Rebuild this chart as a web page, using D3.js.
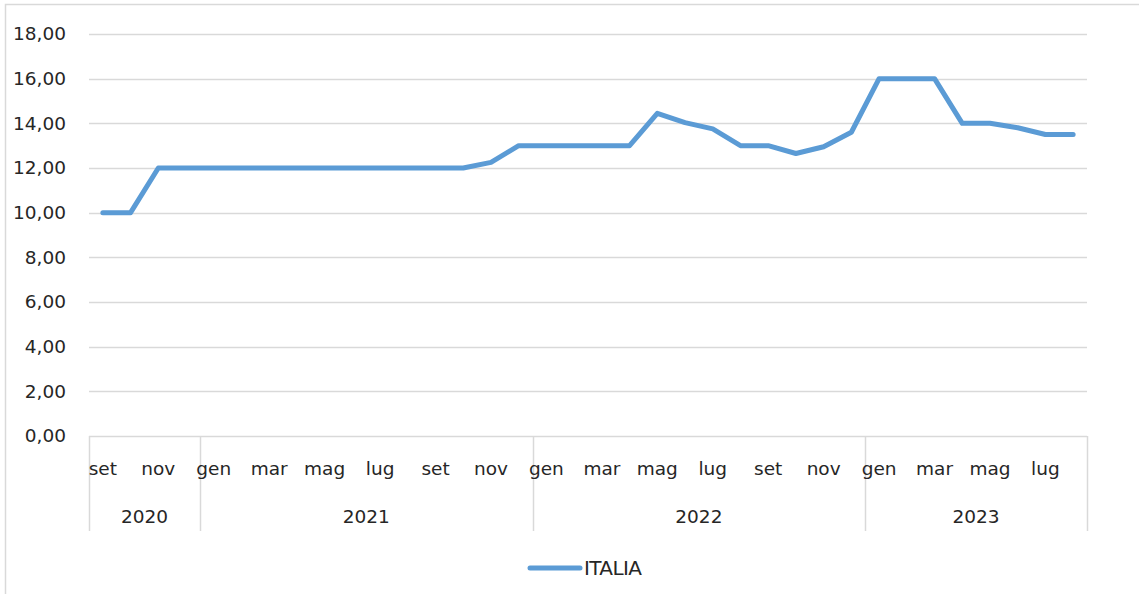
<!DOCTYPE html>
<html>
<head>
<meta charset="utf-8">
<script src="https://cdn.jsdelivr.net/npm/d3@7"></script>
<style>
  body { margin: 0; background: #fff; }
  svg text { font-family: "DejaVu Sans", sans-serif; fill: #262626; }
</style>
</head>
<body>
<div id="chart"></div>
<script>
// months shown on the axis (Excel skips every other label)
var months = ["set", "ott", "nov", "dic",
  "gen", "feb", "mar", "apr", "mag", "giu", "lug", "ago", "set", "ott", "nov", "dic",
  "gen", "feb", "mar", "apr", "mag", "giu", "lug", "ago", "set", "ott", "nov", "dic",
  "gen", "feb", "mar", "apr", "mag", "giu", "lug", "ago"];
var years = ["2020", "2021", "2022", "2023"];
var monthsPerYear = [4, 12, 12, 8];
var italia = [10, 10, 12, 12,
  12, 12, 12, 12, 12, 12, 12, 12, 12, 12, 12.25, 13,
  13, 13, 13, 13, 14.45, 14.03, 13.75, 13, 13, 12.65, 12.95, 13.6,
  16, 16, 16, 14, 14, 13.8, 13.5, 13.5];
var yTicks = [0, 2, 4, 6, 8, 10, 12, 14, 16, 18];
var seriesName = "ITALIA";

var W = 1139, H = 594;
var plotLeft = 89, plotRight = 1087, plotTop = 34, plotBottom = 436;
var gridColor = "#d9d9d9";
var lineColor = "#5b9bd5";

var svg = d3.select("#chart").append("svg")
  .attr("width", W)
  .attr("height", H);

// outer chart border (only top and left show in the picture)
svg.append("path")
  .attr("d", "M5.5," + H + "V4.5H" + W)
  .attr("fill", "none")
  .attr("stroke", gridColor)
  .attr("stroke-width", 1.5);

var x = d3.scaleBand()
  .domain(d3.range(months.length))
  .range([plotLeft, plotRight])
  .padding(0);

var y = d3.scaleLinear()
  .domain([0, 18])
  .range([plotBottom, plotTop]);

// gridlines
svg.selectAll("line.grid")
  .data(yTicks)
  .enter()
  .append("line")
  .attr("class", "grid")
  .attr("x1", plotLeft)
  .attr("x2", plotRight)
  .attr("y1", function(d) { return Math.round(y(d)) + 0.5; })
  .attr("y2", function(d) { return Math.round(y(d)) + 0.5; })
  .attr("stroke", gridColor)
  .attr("stroke-width", 1.5);

// y labels
svg.selectAll("text.ylab")
  .data(yTicks)
  .enter()
  .append("text")
  .attr("class", "ylab")
  .attr("x", 66)
  .attr("y", function(d) { return y(d); })
  .attr("dy", "0.35em")
  .attr("text-anchor", "end")
  .attr("font-size", "18.5px")
  .text(function(d) { return d3.format(".2f")(d).replace(".", ","); });

// year separators on the category axis
var bounds = [0];
monthsPerYear.forEach(function(n, i) { bounds.push(bounds[i] + n); });
var sepX = bounds.map(function(b) {
  return b < months.length ? x(b) : plotRight;
});

svg.selectAll("line.sep")
  .data(sepX)
  .enter()
  .append("line")
  .attr("class", "sep")
  .attr("x1", function(d) { return Math.round(d) + 0.5; })
  .attr("x2", function(d) { return Math.round(d) + 0.5; })
  .attr("y1", plotBottom)
  .attr("y2", 531)
  .attr("stroke", gridColor)
  .attr("stroke-width", 1.5);

// month labels, every other one
svg.selectAll("text.mlab")
  .data(months)
  .enter()
  .filter(function(d, i) { return i % 2 == 0; })
  .append("text")
  .attr("class", "mlab")
  .attr("x", function(d, i) { return x(i * 2) + x.bandwidth() / 2; })
  .attr("y", 469)
  .attr("dy", "0.35em")
  .attr("text-anchor", "middle")
  .attr("font-size", "18.5px")
  .text(function(d) { return d; });

// year labels
svg.selectAll("text.yrlab")
  .data(years)
  .enter()
  .append("text")
  .attr("class", "yrlab")
  .attr("x", function(d, i) { return (sepX[i] + sepX[i + 1]) / 2; })
  .attr("y", 517)
  .attr("dy", "0.35em")
  .attr("text-anchor", "middle")
  .attr("font-size", "18.5px")
  .text(function(d) { return d; });

// the series
var line = d3.line()
  .x(function(d, i) { return x(i) + x.bandwidth() / 2; })
  .y(function(d) { return y(d); });

svg.append("path")
  .datum(italia)
  .attr("d", line)
  .attr("fill", "none")
  .attr("stroke", lineColor)
  .attr("stroke-width", 5)
  .attr("stroke-linejoin", "round")
  .attr("stroke-linecap", "round");

// legend
svg.append("line")
  .attr("x1", 530)
  .attr("x2", 580)
  .attr("y1", 568)
  .attr("y2", 568)
  .attr("stroke", lineColor)
  .attr("stroke-width", 5)
  .attr("stroke-linecap", "round");

svg.append("text")
  .attr("x", 584)
  .attr("y", 568)
  .attr("dy", "0.35em")
  .attr("font-size", "20px")
  .attr("letter-spacing", "-0.6px")
  .text(seriesName);
</script>
</body>
</html>
